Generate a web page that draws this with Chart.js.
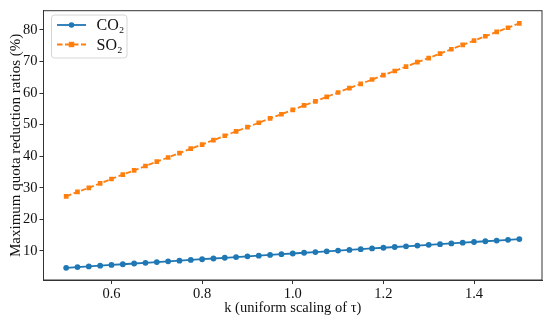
<!DOCTYPE html>
<html>
<head>
<meta charset="utf-8">
<script src="https://cdn.jsdelivr.net/npm/chart.js@4"></script>
<style>
  html, body { margin: 0; padding: 0; background: #fff; }
  #wrap { width: 550px; height: 320px; }
</style>
</head>
<body>
<div id="wrap"><canvas id="chart" width="550" height="320"></canvas></div>
<script>
const kValues = [0.5, 0.525, 0.55, 0.575, 0.6, 0.625, 0.65, 0.675, 0.7, 0.725,
  0.75, 0.775, 0.8, 0.825, 0.85, 0.875, 0.9, 0.925, 0.95, 0.975,
  1.0, 1.025, 1.05, 1.075, 1.1, 1.125, 1.15, 1.175, 1.2, 1.225,
  1.25, 1.275, 1.3, 1.325, 1.35, 1.375, 1.4, 1.425, 1.45, 1.475, 1.5];

const co2 = [4.65, 4.88, 5.11, 5.33, 5.56, 5.79, 6.02, 6.24, 6.47, 6.70,
  6.93, 7.15, 7.38, 7.61, 7.84, 8.06, 8.29, 8.52, 8.75, 8.97,
  9.20, 9.43, 9.66, 9.88, 10.11, 10.34, 10.57, 10.79, 11.02, 11.25,
  11.48, 11.70, 11.93, 12.16, 12.39, 12.61, 12.84, 13.07, 13.30, 13.52, 13.75];

const so2 = [27.3, 28.7, 30.0, 31.4, 32.8, 34.2, 35.5, 36.9, 38.3, 39.6,
  41.0, 42.4, 43.7, 45.1, 46.5, 47.9, 49.2, 50.6, 52.0, 53.3,
  54.7, 56.1, 57.4, 58.8, 60.2, 61.6, 62.9, 64.3, 65.7, 67.0,
  68.4, 69.8, 71.1, 72.5, 73.9, 75.3, 76.6, 78.0, 79.4, 80.7, 82.1];

const xTicks = [0.6, 0.8, 1.0, 1.2, 1.4];
const yTicks = [10, 20, 30, 40, 50, 60, 70, 80];
const seriesNames = ['CO₂', 'SO₂'];

const serif = '"Liberation Serif", "Times New Roman", serif';
const axisColor = '#333';

function pairs(ys) {
  return ys.map((y, i) => ({ x: kValues[i], y: y }));
}

// frame around the plot + legend box in the upper left
const framePlugin = {
  id: 'frame',
  afterDraw(chart) {
    const { ctx, chartArea } = chart;
    ctx.save();
    ctx.strokeStyle = axisColor;
    ctx.lineWidth = 1;
    ctx.strokeRect(chartArea.left, chartArea.top,
      chartArea.right - chartArea.left, chartArea.bottom - chartArea.top);

    // legend
    const bx = 51.5, by = 15, bw = 75.5, bh = 43;
    ctx.fillStyle = 'rgba(255,255,255,0.8)';
    ctx.strokeStyle = '#d6d6d6';
    ctx.beginPath();
    ctx.roundRect(bx, by, bw, bh, 3);
    ctx.fill();
    ctx.stroke();

    const rows = [25, 44.5];
    chart.data.datasets.forEach((ds, i) => {
      const y = rows[i];
      ctx.strokeStyle = ds.borderColor;
      ctx.lineWidth = ds.borderWidth;
      ctx.setLineDash(ds.borderDash || []);
      ctx.beginPath();
      ctx.moveTo(57, y);
      ctx.lineTo(86, y);
      ctx.stroke();
      ctx.setLineDash([]);
      ctx.fillStyle = ds.borderColor;
      if (ds.pointStyle === 'rect') {
        ctx.fillRect(71.5 - 2.7, y - 2.7, 5.4, 5.4);
      } else {
        ctx.beginPath();
        ctx.arc(71.5, y, 2.8, 0, Math.PI * 2);
        ctx.fill();
      }
      ctx.fillStyle = '#111';
      ctx.font = '16px ' + serif;
      ctx.textBaseline = 'middle';
      ctx.fillText(seriesNames[i], 96.5, y + 1);
    });
    ctx.restore();
  }
};

new Chart(document.getElementById('chart'), {
  type: 'line',
  data: {
    datasets: [
      {
        label: seriesNames[0],
        data: pairs(co2),
        borderColor: '#1f77b4',
        backgroundColor: '#1f77b4',
        borderWidth: 1.8,
        pointStyle: 'circle',
        pointRadius: 2.9,
        pointBorderWidth: 0,
        tension: 0,
      },
      {
        label: seriesNames[1],
        data: pairs(so2),
        borderColor: '#ff7f0e',
        backgroundColor: '#ff7f0e',
        borderWidth: 1.8,
        borderDash: [5.5, 2.5],
        pointStyle: 'rect',
        pointRadius: 3.3,
        pointBorderWidth: 0,
        tension: 0,
      },
    ],
  },
  options: {
    responsive: false,
    animation: false,
    devicePixelRatio: 1,
    layout: { padding: { top: 7, right: 8, left: 0, bottom: 0 } },
    plugins: {
      legend: { display: false },
      tooltip: { enabled: false },
    },
    scales: {
      x: {
        type: 'linear',
        min: 0.45,
        max: 1.55,
        afterBuildTicks: (scale) => { scale.ticks = xTicks.map(v => ({ value: v })); },
        afterFit: (scale) => { scale.height = 40; },
        grid: { drawOnChartArea: false, drawTicks: true, tickLength: 4, color: axisColor },
        border: { display: true, color: axisColor },
        ticks: {
          color: '#111',
          font: { family: serif, size: 14.5 },
          padding: 1,
          maxRotation: 0,
          callback: (v) => v.toFixed(1),
        },
        title: {
          display: true,
          text: 'k (uniform scaling of τ)',
          color: '#111',
          font: { family: serif, size: 14.5 },
          padding: { top: 0, bottom: 3 },
        },
      },
      y: {
        type: 'linear',
        min: 0.8,
        max: 86.1,
        afterBuildTicks: (scale) => { scale.ticks = yTicks.map(v => ({ value: v })); },
        afterFit: (scale) => { scale.width = 43.5; },
        grid: { drawOnChartArea: false, drawTicks: true, tickLength: 4, color: axisColor },
        border: { display: true, color: axisColor },
        ticks: {
          color: '#111',
          font: { family: serif, size: 14.5 },
          padding: 2,
        },
        title: {
          display: true,
          text: 'Maximum quota reduction ratios (%)',
          color: '#111',
          font: { family: serif, size: 15 },
          padding: { top: 7, bottom: 0 },
        },
      },
    },
  },
  plugins: [framePlugin],
});
</script>
</body>
</html>
